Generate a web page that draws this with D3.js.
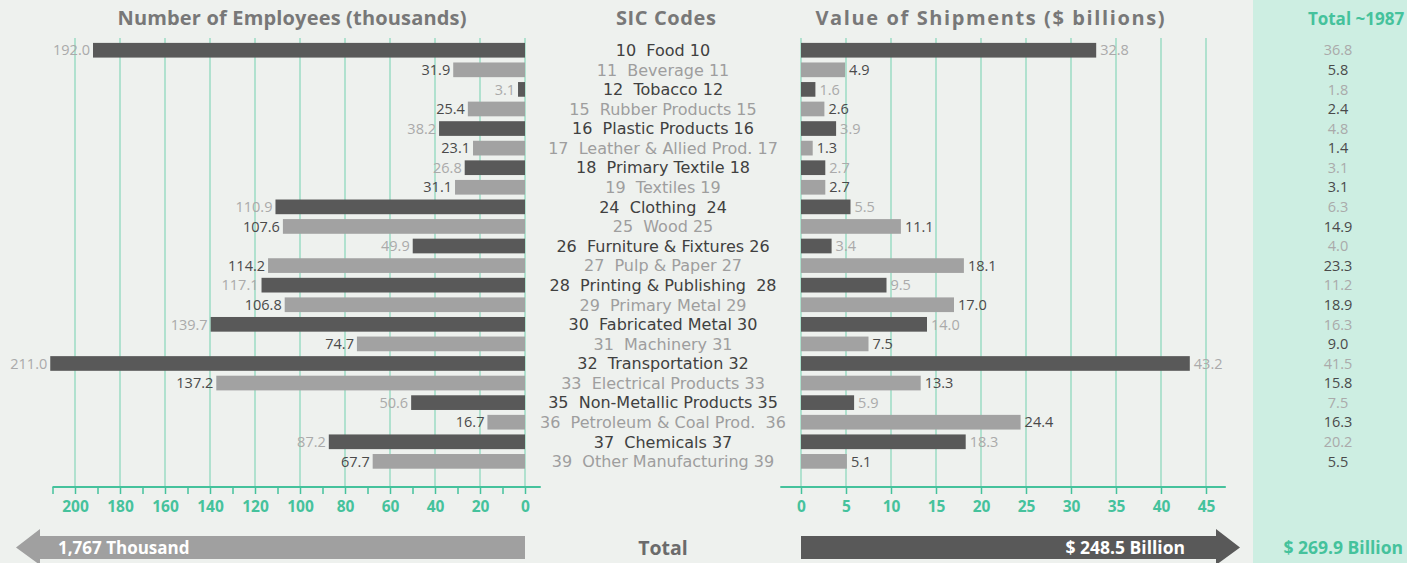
<!DOCTYPE html>
<meta charset="utf-8">
<style>
  body { margin: 0; background: #eef1ee; }
  svg { display: block; font-family: "Open Sans", "Noto Sans", sans-serif; }
  .lbl { white-space: pre; font-family: "DejaVu Sans", sans-serif; }
</style>
<script src="https://d3js.org/d3.v7.min.js"></script>
<svg id="chart" width="1407" height="563"></svg>
<script>

// SIC codes, top to bottom
const industries = [
  "10  Food 10", "11  Beverage 11", "12  Tobacco 12", "15  Rubber Products 15",
  "16  Plastic Products 16", "17  Leather & Allied Prod. 17", "18  Primary Textile 18",
  "19  Textiles 19", "24  Clothing  24", "25  Wood 25", "26  Furniture & Fixtures 26",
  "27  Pulp & Paper 27", "28  Printing & Publishing  28", "29  Primary Metal 29",
  "30  Fabricated Metal 30", "31  Machinery 31", "32  Transportation 32",
  "33  Electrical Products 33", "35  Non-Metallic Products 35",
  "36  Petroleum & Coal Prod.  36", "37  Chemicals 37", "39  Other Manufacturing 39"
];
// thousands of employees
const employees = [192.0, 31.9, 3.1, 25.4, 38.2, 23.1, 26.8, 31.1, 110.9, 107.6, 49.9,
  114.2, 117.1, 106.8, 139.7, 74.7, 211.0, 137.2, 50.6, 16.7, 87.2, 67.7];
// value of shipments, $ billions
const shipments = [32.8, 4.9, 1.6, 2.6, 3.9, 1.3, 2.7, 2.7, 5.5, 11.1, 3.4,
  18.1, 9.5, 17.0, 14.0, 7.5, 43.2, 13.3, 5.9, 24.4, 18.3, 5.1];
// total ~1987, $ billions
const total1987 = [36.8, 5.8, 1.8, 2.4, 4.8, 1.4, 3.1, 3.1, 6.3, 14.9, 4.0,
  23.3, 11.2, 18.9, 16.3, 9.0, 41.5, 15.8, 7.5, 16.3, 20.2, 5.5];

const empTicks = [0, 20, 40, 60, 80, 100, 120, 140, 160, 180, 200];
const shipTicks = [0, 5, 10, 15, 20, 25, 30, 35, 40, 45];
const totals = { employees: "1,767 Thousand", shipments: "$ 248.5 Billion", total1987: "$ 269.9 Billion" };

const teal = "#45c29c", grid = "#8fd9be";
const barDark = "#595959", barLight = "#a2a2a2";
const txtDark = "#4a4a4a", txtLight = "#aaaaaa";

const svg = d3.select("#chart");

// total column panel
svg.append("rect").attr("x", 1253).attr("y", 0).attr("width", 154).attr("height", 563)
  .attr("fill", "#cdeee2");

const axisY = 487;
const xEmp = d3.scaleLinear().domain([0, 200]).range([525, 75]);
const xShip = d3.scaleLinear().domain([0, 45]).range([801, 1206]);
const y = d3.scaleBand().domain(industries).range([38, 38 + 22 * 19.8]).padding(0.25);

const rows = industries.map((name, i) => ({
  name, i, emp: employees[i], ship: shipments[i], tot: total1987[i], dark: i % 2 === 0
}));

// gridlines
svg.append("g").selectAll("line").data(empTicks).join("line")
  .attr("x1", d => xEmp(d)).attr("x2", d => xEmp(d))
  .attr("y1", 38).attr("y2", axisY)
  .attr("stroke", grid).attr("stroke-width", 1.3);
svg.append("g").selectAll("line").data(shipTicks).join("line")
  .attr("x1", d => xShip(d)).attr("x2", d => xShip(d))
  .attr("y1", 38).attr("y2", axisY)
  .attr("stroke", grid).attr("stroke-width", 1.3);

// headers
const header = (x, text, color, size, len) => {
  const t = svg.append("text")
    .attr("x", x).attr("y", 25).attr("text-anchor", "middle")
    .attr("font-weight", 700).attr("font-size", size).attr("fill", color).text(text);
  if (len) t.attr("textLength", len).attr("lengthAdjust", "spacing");
  return t;
};
header(292, "Number of Employees (thousands)", "#787878", 20, 349);
header(666, "SIC Codes", "#787878", 20, 100);
header(990, "Value of Shipments ($ billions)", "#787878", 20, 349);
header(1356, "Total ~1987", teal, 17);

// employee bars
svg.append("g").selectAll("rect").data(rows).join("rect")
  .attr("x", d => xEmp(d.emp)).attr("y", d => y(d.name))
  .attr("width", d => xEmp(0) - xEmp(d.emp)).attr("height", y.bandwidth())
  .attr("fill", d => d.dark ? barDark : barLight);
svg.append("g").selectAll("text").data(rows).join("text")
  .attr("x", d => xEmp(d.emp) - 3).attr("y", d => y(d.name) + y.bandwidth() / 2)
  .attr("dy", "0.36em").attr("text-anchor", "end").attr("font-size", 14.5)
  .attr("fill", d => d.dark ? txtLight : txtDark)
  .text(d => d.emp.toFixed(1));

// shipment bars
svg.append("g").selectAll("rect").data(rows).join("rect")
  .attr("x", xShip(0)).attr("y", d => y(d.name))
  .attr("width", d => xShip(d.ship) - xShip(0)).attr("height", y.bandwidth())
  .attr("fill", d => d.dark ? barDark : barLight);
svg.append("g").selectAll("text").data(rows).join("text")
  .attr("x", d => xShip(d.ship) + 4).attr("y", d => y(d.name) + y.bandwidth() / 2)
  .attr("dy", "0.36em").attr("font-size", 14.5)
  .attr("fill", d => d.dark ? txtLight : txtDark)
  .text(d => d.ship.toFixed(1));

// SIC labels
svg.append("g").selectAll("text").data(rows).join("text")
  .attr("class", "lbl")
  .attr("x", 663).attr("y", d => y(d.name) + y.bandwidth() / 2)
  .attr("dy", "0.36em").attr("text-anchor", "middle").attr("font-size", 16)
  .attr("fill", d => d.dark ? "#404040" : "#9e9e9e")
  .text(d => d.name);

// total column
svg.append("g").selectAll("text").data(rows).join("text")
  .attr("x", 1338).attr("y", d => y(d.name) + y.bandwidth() / 2)
  .attr("dy", "0.36em").attr("text-anchor", "middle").attr("font-size", 14.5)
  .attr("fill", d => d.dark ? txtLight : txtDark)
  .text(d => d.tot.toFixed(1));

// axes
function styleAxis(g) {
  g.select(".domain").remove();
  g.selectAll(".tick line").attr("stroke", teal).attr("stroke-width", 1.5);
  g.selectAll(".tick text").attr("fill", teal).attr("font-weight", 700)
    .attr("font-size", 15.5).attr("font-family", "'Open Sans', sans-serif");
}
svg.append("g").attr("transform", `translate(0,${axisY})`)
  .call(d3.axisBottom(xEmp).tickValues(d3.range(0, 211, 10))
    .tickSize(7).tickPadding(7)
    .tickFormat(d => d % 20 === 0 && d <= 200 ? d : ""))
  .call(styleAxis);
svg.append("g").attr("transform", `translate(0,${axisY})`)
  .call(d3.axisBottom(xShip).tickValues(shipTicks).tickSize(7).tickPadding(7))
  .call(styleAxis);
svg.append("line").attr("x1", xEmp(210)).attr("x2", xEmp(-7))
  .attr("y1", axisY).attr("y2", axisY).attr("stroke", teal).attr("stroke-width", 1.8);
svg.append("line").attr("x1", xShip(-2.3)).attr("x2", xShip(47.2))
  .attr("y1", axisY).attr("y2", axisY).attr("stroke", teal).attr("stroke-width", 1.8);

// total arrows
const aTop = 536, aBot = 559, hTop = 529, hBot = 565;
const midY = (aTop + aBot) / 2;
const lTip = 16, lBase = 40, lEnd = xEmp(0);
svg.append("path")
  .attr("d", `M${lEnd},${aTop} L${lBase},${aTop} L${lBase},${hTop} L${lTip},${midY} L${lBase},${hBot} L${lBase},${aBot} L${lEnd},${aBot} Z`)
  .attr("fill", "#a0a0a0");
const rStart = xShip(0), rBase = 1216, rTip = 1240;
svg.append("path")
  .attr("d", `M${rStart},${aTop} L${rBase},${aTop} L${rBase},${hTop} L${rTip},${midY} L${rBase},${hBot} L${rBase},${aBot} L${rStart},${aBot} Z`)
  .attr("fill", barDark);

svg.append("text").attr("x", 58).attr("y", midY).attr("dy", "0.36em")
  .attr("font-weight", 700).attr("font-size", 17).attr("fill", "#fff").text(totals.employees);
svg.append("text").attr("x", 663).attr("y", midY).attr("dy", "0.36em").attr("text-anchor", "middle")
  .attr("font-weight", 700).attr("font-size", 19.5).attr("fill", "#6b6b6b").text("Total");
svg.append("text").attr("x", 1185).attr("y", midY).attr("dy", "0.36em").attr("text-anchor", "end")
  .attr("font-weight", 700).attr("font-size", 17.5).attr("fill", "#fff").text(totals.shipments);
svg.append("text").attr("x", 1403).attr("y", midY).attr("dy", "0.36em").attr("text-anchor", "end")
  .attr("font-weight", 700).attr("font-size", 17.5).attr("fill", teal).text(totals.total1987);
</script>
